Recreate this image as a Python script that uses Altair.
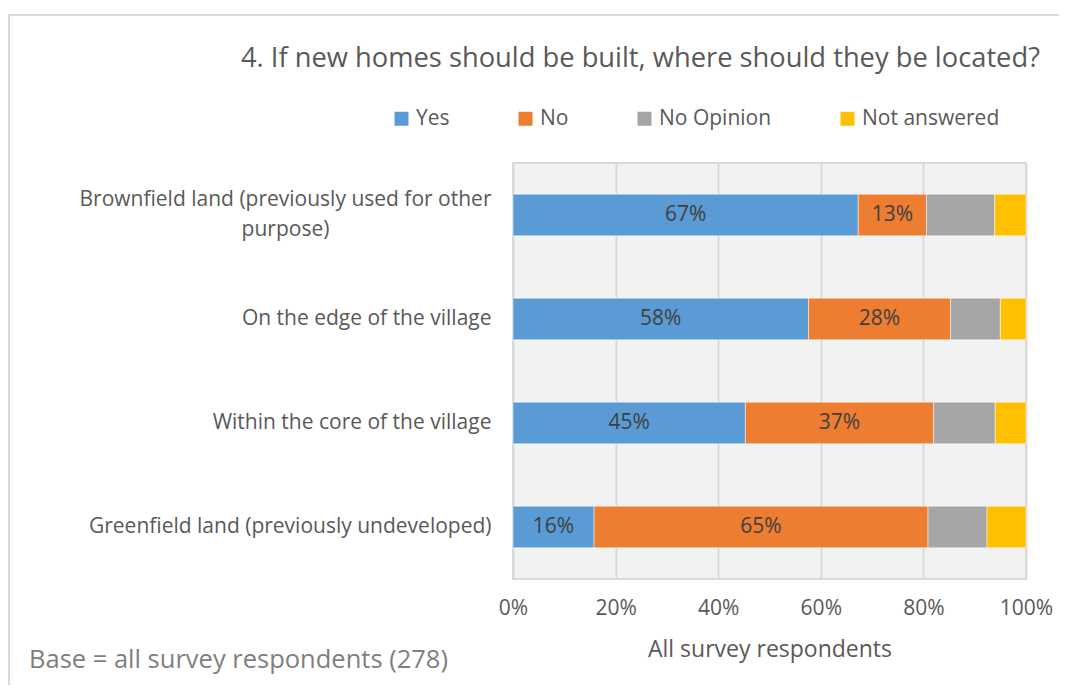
import altair as alt
import pandas as pd

categories = [
    "Brownfield land (previously used for other purpose)",
    "On the edge of the village",
    "Within the core of the village",
    "Greenfield land (previously undeveloped)",
]
series = ["Yes", "No", "No Opinion", "Not answered"]
colors = ["#5B9BD5", "#ED7D31", "#A5A5A5", "#FFC000"]
yes_vals = [67.3, 57.6, 45.3, 15.8]
no_vals = [13.3, 27.7, 36.7, 65.1]
noop_vals = [13.3, 9.7, 12.0, 11.5]
na_vals = [6.1, 5.0, 6.0, 7.6]
x_ticks = [0, 20, 40, 60, 80, 100]
title_text = "4. If new homes should be built, where should they be located?"
note_text = "Base = all survey respondents (278)"

rows = []
for i, c in enumerate(categories):
    for j, (s, vals) in enumerate(zip(series, [yes_vals, no_vals, noop_vals, na_vals])):
        rows.append({"category": c, "series": s, "order": j, "value": vals[i]})
df = pd.DataFrame(rows)

FONT = "Open Sans"
TXT = "#595959"
FS = 21

base = alt.Chart(df).transform_stack(
    stack="value", groupby=["category"], as_=["x0", "x1"],
    sort=[alt.SortField("order", order="ascending")],
).transform_calculate(
    mid="(datum.x0 + datum.x1) / 2",
    lbl="format(datum.value, '.0f') + '%'",
)

is_long = "datum.value == '" + categories[0] + "'"

y_enc = alt.Y(
    "category:N", sort=categories, title=None,
    scale=alt.Scale(paddingInner=0.6, paddingOuter=0.3),
    axis=alt.Axis(
        labelExpr=is_long + " ? ['Brownfield land (previously used for other', 'purpose)'] : datum.value",
        labelFontSize=FS, labelColor=TXT, labelFont=FONT,
        labelPadding=alt.condition(is_long, alt.value(228), alt.value(22)),
        labelAlign=alt.condition(is_long, alt.value("center"), alt.value("right")),
        labelOffset=alt.condition(is_long, alt.value(-15), alt.value(0)),
        ticks=False, domain=False,
        labelLimit=600, labelLineHeight=30, grid=False,
    ),
)

bars = base.mark_bar(stroke="#FFFFFF", strokeWidth=0.5).encode(
    y=y_enc,
    x=alt.X("x0:Q", scale=alt.Scale(domain=[0, 100], nice=False),
            axis=alt.Axis(values=x_ticks, labelExpr="datum.value + '%'", labelFlush=False,
                          title="All survey respondents", titleFontSize=23, titleFont=FONT,
                          titleColor=TXT, titleFontWeight="normal", titlePadding=20,
                          labelFontSize=FS, labelFont=FONT, labelColor=TXT, labelPadding=18,
                          ticks=False, domain=False, grid=True, gridColor="#D9D9D9", gridWidth=2)),
    x2="x1:Q",
    color=alt.Color("series:N", scale=alt.Scale(domain=series, range=colors),
                    sort=series,
                    legend=alt.Legend(title=None, orient="none", direction="horizontal",
                                      legendX=-122, legendY=-55, columns=4, columnPadding=65,
                                      symbolType="square", symbolSize=196, symbolStrokeWidth=0,
                                      symbolOffset=0,
                                      labelFontSize=FS, labelFont=FONT, labelColor=TXT, labelOffset=4)),
    order=alt.Order("order:Q"),
)

texts = base.transform_filter(
    "datum.series == 'Yes' || datum.series == 'No'"
).mark_text(fontSize=FS, font=FONT, color="#404040").encode(
    y=alt.Y("category:N", sort=categories),
    x=alt.X("mid:Q"),
    text="lbl:N",
)

note = alt.Chart(pd.DataFrame({"t": [note_text]})).mark_text(
    align="left", baseline="middle", fontSize=25.5, font=FONT, color="#7F7F7F"
).encode(x=alt.value(-484), y=alt.value(497), text="t:N")

title = alt.Chart(pd.DataFrame({"t": [title_text]})).mark_text(
    align="left", baseline="middle", fontSize=27.3, font=FONT, color=TXT
).encode(x=alt.value(-272), y=alt.value(-104), text="t:N")

frame_top = alt.Chart(pd.DataFrame({"f": [0]})).mark_rule(
    stroke="#D9D9D9", strokeWidth=2
).encode(x=alt.value(-504), x2=alt.value(600), y=alt.value(-148))
frame_left = alt.Chart(pd.DataFrame({"f": [0]})).mark_rule(
    stroke="#D9D9D9", strokeWidth=2
).encode(x=alt.value(-504), y=alt.value(-149), y2=alt.value(600))

chart = alt.layer(frame_top, frame_left, bars, texts, note, title).properties(
    width=513, height=416,
    padding={"left": 505, "top": 155, "right": 33, "bottom": 106},
    autosize=alt.AutoSizeParams(type="none"),
).configure_view(stroke="#D9D9D9", strokeWidth=2, fill="#F2F2F2")

chart.save("out.html", embed_options={"renderer": "svg", "actions": False})
